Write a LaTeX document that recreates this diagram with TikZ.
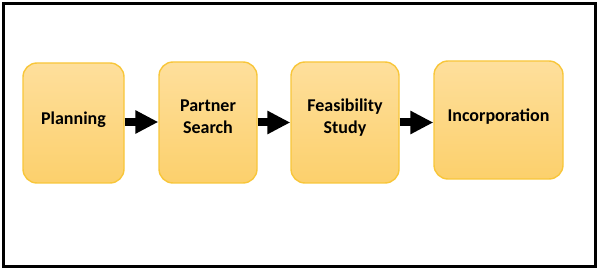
\documentclass[tikz,border=0pt]{standalone}
\usepackage{fontspec}
\setmainfont{Carlito}
\usetikzlibrary{arrows.meta}
\definecolor{boxtop}{RGB}{254,223,156}
\definecolor{boxbot}{RGB}{252,208,108}
\definecolor{boxline}{RGB}{248,198,58}
\tikzset{
  stagebox/.style={rectangle, rounded corners=14pt, draw=boxline, line width=1.4pt,
    top color=boxtop, bottom color=boxbot, inner sep=0pt},
  stagelabel/.style={font=\fontsize{18}{22}\selectfont\bfseries, align=center, inner sep=0pt},
  flowarrow/.style={line width=8pt, -{Triangle[length=23pt,width=22pt]}}
}
\begin{document}
\begin{tikzpicture}[x=1pt,y=-1pt]
\useasboundingbox (0,0) rectangle (601,272);
\draw[line width=3pt] (3.5,3.5) rectangle (595.7,266) ;
\node[stagebox, minimum width=101pt, minimum height=120pt] (a) at (73.5,123) {};
\node[stagebox, minimum width=98pt, minimum height=121pt] (b) at (208,122.5) {};
\node[stagebox, minimum width=108pt, minimum height=121pt] (c) at (345,122.5) {};
\node[stagebox, minimum width=129pt, minimum height=118pt] (d) at (498.5,120) {};
\node[stagelabel] (at) at ([yshift=3pt]a.center) {Planning};
\node[stagelabel] (bt) at ([yshift=6pt]b.center) {Partner\\Search};
\node[stagelabel] (ct) at ([yshift=5pt]c.center) {Feasibility\\Study};
\node[stagelabel] (dt) at ([yshift=3pt]d.center) {Incorporation};
\coordinate (a1) at ([yshift=1pt]a.east);
\coordinate (c1) at ([yshift=0pt]c.east);
\draw[flowarrow] (a1) -- (a1 -| b.west);
\draw[flowarrow] (b.east) -- (b.east -| c.west);
\draw[flowarrow] (c1) -- (c1 -| d.west);
\end{tikzpicture}
\end{document}
